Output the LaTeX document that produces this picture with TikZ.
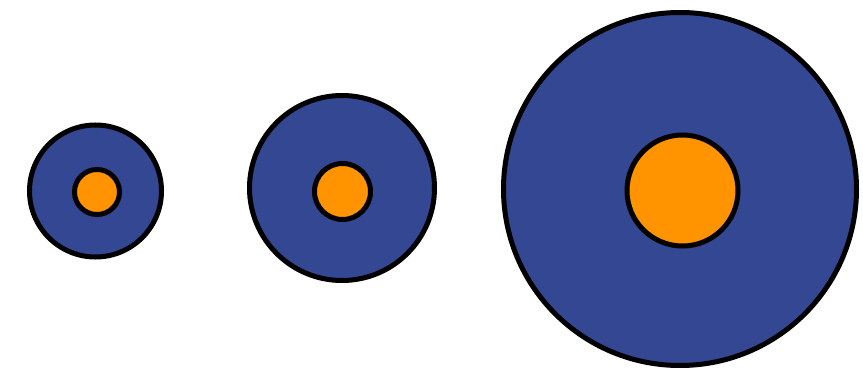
\documentclass[tikz,border=0pt]{standalone}
\usepackage{tikz}
\usetikzlibrary{positioning}

\definecolor{ringblue}{RGB}{52,71,146}
\definecolor{coreorange}{RGB}{255,147,0}

\begin{document}
\begin{tikzpicture}[x=1pt, y=-1pt,
						ring/.style={draw=black, circle, fill=ringblue, line width=5pt, inner sep=0pt},
						core/.style={draw=black, circle, fill=coreorange, line width=5pt, inner sep=0pt}]
						
						\useasboundingbox (0,0) rectangle (863,369);
						
						\node[ring, minimum size=132pt] (small) at (95.5,191) {};
						\node[core, minimum size=45pt] (smallcore) at (97,192) {};
						
						\node[ring, minimum size=185pt] (medium) at (342,188) {};
						\node[core, minimum size=56pt] (mediumcore) at (342.5,191.5) {};
						
						\node[ring, minimum size=353pt] (large) at (680,189) {};
						\node[core, minimum size=111pt] (largecore) at (682.5,190.5) {};
					\end{tikzpicture}
\end{document}
